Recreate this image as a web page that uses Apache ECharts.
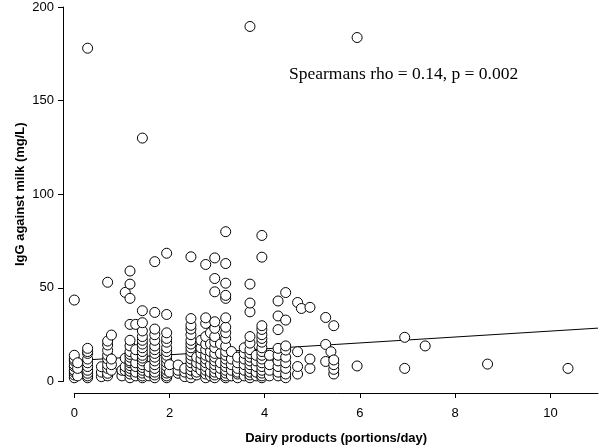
<!DOCTYPE html>
<html><head><meta charset="utf-8">
<script src="https://cdn.jsdelivr.net/npm/echarts@6/dist/echarts.min.js"></script>
<style>html,body{margin:0;padding:0;background:#fff}#c{width:600px;height:446px}</style>
</head><body><div id="c"></div>
<script>
// Dairy products (portions/day): x position of each column of points
var columnX = [0.0, 0.07, 0.28, 0.57, 0.7, 0.78, 1.0, 1.07, 1.17, 1.29, 1.43, 1.57, 1.69, 1.94, 2.0, 2.18, 2.32, 2.45, 2.57, 2.66, 2.76, 2.86, 2.95, 3.07, 3.18, 3.3, 3.43, 3.57, 3.69, 3.82, 3.94, 4.1, 4.28, 4.44, 4.69, 4.77, 4.95, 5.28, 5.39, 5.45, 5.94, 6.94, 7.37, 8.68, 10.37];
// IgG against milk (mg/L) values in each column
var columnIgG = [
  [2, 3.5, 5, 6, 8, 9, 11, 12, 14, 43.5],
  [3, 7, 10],
  [2, 3, 4.4, 6, 8, 10, 12, 15, 16, 17.7, 178],
  [2.6, 5, 7.9],
  [3, 4.4, 7, 9, 12, 14, 16.6, 19.5, 21.6, 53],
  [6, 9, 12, 24.8],
  [3, 6],
  [5.8, 8, 12.4, 47.6],
  [2, 4, 5.5, 7, 8.5, 10, 11, 13, 14.5, 16, 19, 22, 30.5, 44.4, 52, 59],
  [3, 5, 8, 10, 14, 17, 30.5],
  [2, 3, 4.5, 6, 7.5, 9, 11, 12.5, 14, 16, 18, 20, 22, 24, 27, 31.4, 37.8, 130],
  [3, 5, 8],
  [2, 3.5, 5, 7, 9, 11, 13, 15, 17, 19, 22, 25, 28, 36.9, 64],
  [2, 3, 4.5, 6, 8, 10, 12, 14, 16, 18, 21, 23, 26, 35.8, 68.5],
  [5, 9],
  [4.4, 6, 8.8],
  [2.6, 5, 7],
  [2, 4, 6, 8, 10, 12, 14, 16, 18, 20, 22, 25, 28, 30, 33.6, 66.6],
  [3.5, 5, 7.9, 10, 13],
  [6, 9, 12, 15, 18, 22],
  [2, 4, 6, 8, 10, 12, 14, 17, 20, 24, 31, 34, 62.5],
  [3, 5, 9, 13, 16, 20, 26],
  [2, 3.5, 5, 7, 9, 11, 13, 15, 18, 21, 24, 28.4, 31.9, 47.9, 55, 66],
  [4, 7, 10, 15, 20],
  [2, 3, 4.5, 6, 8, 10, 12, 14, 16, 19, 23, 26, 29, 34, 44.4, 46, 52.5, 63, 80],
  [3, 6, 9, 12, 16],
  [2, 4, 5, 7, 10, 13],
  [3, 6, 9, 12, 15, 18],
  [2, 3.5, 5, 7, 9, 11, 13, 15, 17, 20.5, 24, 37.2, 41.9, 52, 189.6],
  [3, 5, 8, 11, 14],
  [2, 3, 4.5, 6, 8, 10, 12, 14, 16, 18, 21, 23, 25, 27.8, 29.8, 66.4, 78],
  [3, 6, 9, 14],
  [3, 5, 8, 11, 14, 17.7, 27.7, 35, 43],
  [2, 4, 7, 10, 13, 16.8, 19, 32.8, 47.5],
  [4, 8, 15.9, 42.2],
  [39],
  [7, 12, 39.6],
  [10.7, 19.8, 34.2],
  [15.9],
  [4, 6.5, 9, 11.5, 29.8],
  [8.3, 183.7],
  [7, 23.6],
  [19],
  [9.3],
  [7]
];
// Fitted line end points
var fitX = [0, 11];
var fitY = [11.1, 28.5];
var xTicks = [0, 2, 4, 6, 8, 10];
var yTicks = [0, 50, 100, 150, 200];
var annotation = 'Spearmans rho = 0.14, p = 0.002';

var points = [];
columnX.forEach(function (x, i) {
  columnIgG[i].forEach(function (y) { points.push([x, y]); });
});
var fitLine = fitX.map(function (x, i) { return [x, fitY[i]]; });

var chart = echarts.init(document.getElementById('c'), null, {renderer: 'canvas'});
var lab = {fontFamily: 'Liberation Sans, Arial, sans-serif', fontSize: 13, color: '#000'};
chart.setOption({
  animation: false,
  backgroundColor: '#fff',
  grid: {left: 74.3, right: 2, top: 7, bottom: 64.5, containLabel: false, outerBoundsMode: 'none'},
  xAxis: {
    type: 'value', min: 0, max: 11, interval: 2, offset: 11.5,
    name: 'Dairy products (portions/day)', nameLocation: 'middle', nameGap: 39, nameMoveOverlap: false,
    nameTextStyle: {fontFamily: 'Liberation Sans, Arial, sans-serif', fontSize: 13, fontWeight: 'bold', color: '#000'},
    axisLine: {show: true, onZero: false, lineStyle: {color: '#000', width: 1}},
    axisTick: {show: true, length: 5, lineStyle: {color: '#000'}, customValues: xTicks},
    axisLabel: Object.assign({margin: 14, customValues: xTicks}, lab),
    splitLine: {show: false}
  },
  yAxis: {
    type: 'value', min: 0, max: 200, interval: 50, offset: 11.3,
    name: 'IgG against milk (mg/L)', nameLocation: 'middle', nameGap: 36, nameMoveOverlap: false,
    nameTextStyle: {fontFamily: 'Liberation Sans, Arial, sans-serif', fontSize: 13, fontWeight: 'bold', color: '#000'},
    axisLine: {show: true, onZero: false, lineStyle: {color: '#000', width: 1}},
    axisTick: {show: true, length: 5, lineStyle: {color: '#000'}, customValues: yTicks},
    axisLabel: Object.assign({margin: 9, customValues: yTicks}, lab),
    splitLine: {show: false}
  },
  graphic: [{
    type: 'text', x: 289, y: 74,
    style: {text: annotation, font: '17.5px "Liberation Serif", "Times New Roman", serif', fill: '#000', verticalAlign: 'middle'}
  }],
  series: [
    {
      type: 'line', data: fitLine, symbol: 'none', clip: false,
      lineStyle: {color: '#000', width: 1}, z: 1
    },
    {
      type: 'scatter', data: points, symbol: 'circle', symbolSize: 10, clip: false,
      itemStyle: {color: '#fff', borderColor: '#000', borderWidth: 1, opacity: 1}, z: 2
    }
  ]
});
</script></body></html>
